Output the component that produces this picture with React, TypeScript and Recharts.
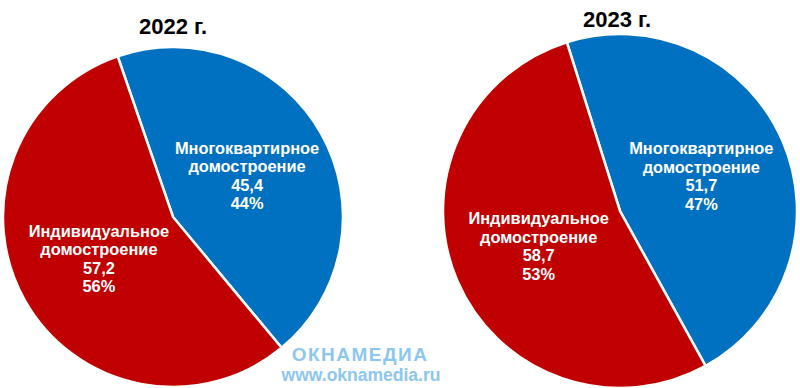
import { PieChart, Pie, Cell } from 'recharts';

const segments = ['Многоквартирное домостроение', 'Индивидуальное домостроение'];
const values2022 = [45.4, 57.2];
const values2023 = [51.7, 58.7];
const titles = ['2022 г.', '2023 г.'];
const colors = ['#0070C0', '#C00000'];

const FONT = '"Liberation Sans", Arial, sans-serif';

const toData = (vals: number[]) => {
    const total = vals.reduce((s, v) => s + v, 0);
    return vals.map((v, i) => ({ name: segments[i], value: v, pct: Math.round((v / total) * 100) }));
};

const RAD = Math.PI / 180;

// label in the middle of the slice, at half the radius
const renderLabel = (props: any) => {
    const { cx, cy, midAngle, outerRadius, payload } = props;
    const r = outerRadius * 0.5;
    const x = cx + r * Math.cos(-midAngle * RAD);
    const y = cy + r * Math.sin(-midAngle * RAD);
    const words = String(payload.name).split(' ');
    const lines = [...words, String(payload.value).replace('.', ','), `${payload.pct}%`];
    const lh = 18.5;
    const top = y - (lh * (lines.length - 1)) / 2;
    return (
        <text x={x} y={top} fill="#fff" textAnchor="middle" dominantBaseline="central"
            style={{ fontFamily: FONT, fontSize: 16.4, fontWeight: 700 }}>
            {lines.map((l, i) => (
                <tspan key={i} x={x} y={top + i * lh}>{l}</tspan>
            ))}
        </text>
    );
};

export default function App() {
    const d1 = toData(values2022);
    const d2 = toData(values2023);
    const span1 = 360;
    return (
        <div style={{ position: 'absolute', left: 0, top: 0, width: 800, height: 388, background: '#fff', overflow: 'hidden' }}>
            <PieChart width={800} height={388} margin={{ top: 0, right: 0, bottom: 0, left: 0 }}>
                <text x={173} y={26} textAnchor="middle" dominantBaseline="central"
                    style={{ fontFamily: FONT, fontSize: 22, fontWeight: 700 }} fill="#000">{titles[0]}</text>
                <text x={617} y={19} textAnchor="middle" dominantBaseline="central"
                    style={{ fontFamily: FONT, fontSize: 22, fontWeight: 700 }} fill="#000">{titles[1]}</text>
                <Pie data={d1} dataKey="value" nameKey="name" cx={173} cy={217} outerRadius={170}
                    startAngle={109} endAngle={109 - span1} stroke="#fff" strokeWidth={2.5}
                    label={renderLabel} labelLine={false} isAnimationActive={false}>
                    {d1.map((_, i) => <Cell key={i} fill={colors[i]} />)}
                </Pie>
                <Pie data={d2} dataKey="value" nameKey="name" cx={620} cy={211} outerRadius={177}
                    startAngle={107.5} endAngle={107.5 - span1} stroke="#fff" strokeWidth={2.5}
                    label={renderLabel} labelLine={false} isAnimationActive={false}>
                    {d2.map((_, i) => <Cell key={i} fill={colors[i]} />)}
                </Pie>
                <text x={360} y={354} textAnchor="middle" dominantBaseline="central" fill="#8DC6EE"
                    style={{ fontFamily: FONT, fontSize: 19, fontWeight: 700, letterSpacing: 1.5 }}>ОКНАМЕДИА</text>
                <text x={361} y={375} textAnchor="middle" dominantBaseline="central" fill="#8DC6EE"
                    style={{ fontFamily: FONT, fontSize: 17.5, fontWeight: 700 }}>www.oknamedia.ru</text>
            </PieChart>
        </div>
    );
}
